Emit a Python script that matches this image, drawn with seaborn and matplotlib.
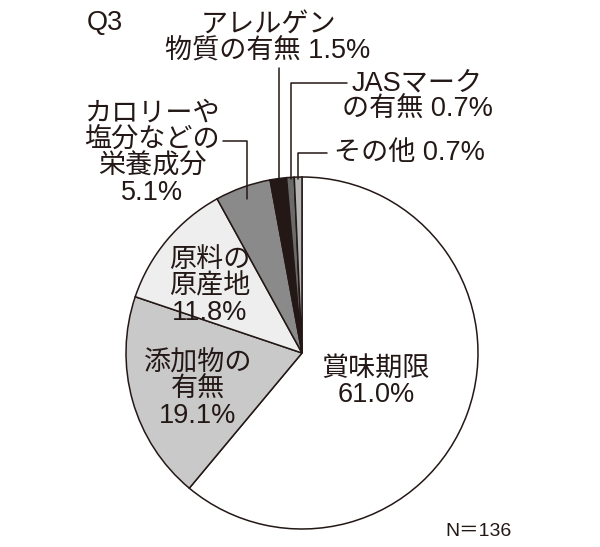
import numpy as np
import matplotlib
matplotlib.use("Agg")
import matplotlib.pyplot as plt
import seaborn as sns

# ---- data ----
categories = ["賞味期限", "添加物の有無", "原料の原産地", "カロリーや塩分などの栄養成分",
              "アレルゲン物質の有無", "JASマークの有無", "その他"]
values = [61.0, 19.1, 11.8, 5.1, 1.5, 0.7, 0.7]
labels = ["賞味期限\n61.0%", "添加物の\n有無\n19.1%", "原料の\n原産地\n11.8%",
          "カロリーや\n塩分などの\n栄養成分\n5.1%", "アレルゲン\n物質の有無 1.5%",
          "JASマーク\nの有無 0.7%", "その他 0.7%"]
colors = ["#ffffff", "#c9c9c9", "#eeeeee", "#8a8a8a", "#231815", "#6a6a6a", "#b4b4b4"]
title = "Q3"
note = "N＝136"

sns.set_theme(style="white")
plt.rcParams["font.family"] = ["Liberation Sans", "Noto Sans CJK JP", "DejaVu Sans"]

W, H = 600, 547
fig = plt.figure(figsize=(W / 100, H / 100), dpi=100)
ax = fig.add_axes([0, 0, 1, 1])

def Y(y):
    return H - y

cx, cy, R = 302, 353, 176
ax.pie(values, colors=colors, startangle=90, counterclock=False,
       center=(cx, Y(cy)), radius=R,
       wedgeprops=dict(edgecolor="#231815", linewidth=1.1))
ax.set_xlim(0, W)
ax.set_ylim(0, H)
ax.set_aspect("equal", adjustable="box")
ax.axis("off")

# mid-angles of wedges (clockwise from top)
total = sum(values)
cum = np.cumsum([0] + values)
mid = [(cum[i] + values[i] / 2) / total * 2 * np.pi for i in range(len(values))]

def edge_pt(i, frac=1.0):
    a = mid[i]
    return cx + R * frac * np.sin(a), cy - R * frac * np.cos(a)

fs = 19.5
ls = 1.02
tc = "#231815"
lc = "#231815"
kw = dict(ha="center", va="center", fontsize=fs, color=tc, linespacing=ls)

# inside labels
ax.text(376, Y(382), labels[0], **kw)
ax.text(198, Y(390), labels[1], **kw)
ax.text(210, Y(286.5), labels[2], **kw)

# outside labels
ax.text(152, Y(153), labels[3], **kw)
ax.text(268, Y(38.5), labels[4], **kw)
ax.text(417, Y(96.5), labels[5], **kw)
ax.text(334, Y(153), labels[6], ha="left", va="center", fontsize=fs, color=tc)

# leader lines
x3, y3 = edge_pt(3, 0.93)
ax.plot([223, x3, x3], [Y(141), Y(141), Y(y3)], color=lc, lw=1.1)
x4, y4 = edge_pt(4, 0.99)
ax.plot([x4, x4], [Y(68), Y(y4)], color=lc, lw=1.1)
x5, y5 = edge_pt(5, 0.99)
ax.plot([347, x5, x5], [Y(83), Y(83), Y(y5)], color=lc, lw=1.1)
x6, y6 = edge_pt(6, 0.99)
ax.plot([327, x6, x6], [Y(153), Y(153), Y(y6)], color=lc, lw=1.1)

ax.text(105, Y(23), title, ha="center", va="center", fontsize=19.5, color=tc)
ax.text(445, Y(532), note, ha="left", va="center", fontsize=14, color=tc)

fig.savefig("out.png", dpi=100, facecolor="white")
